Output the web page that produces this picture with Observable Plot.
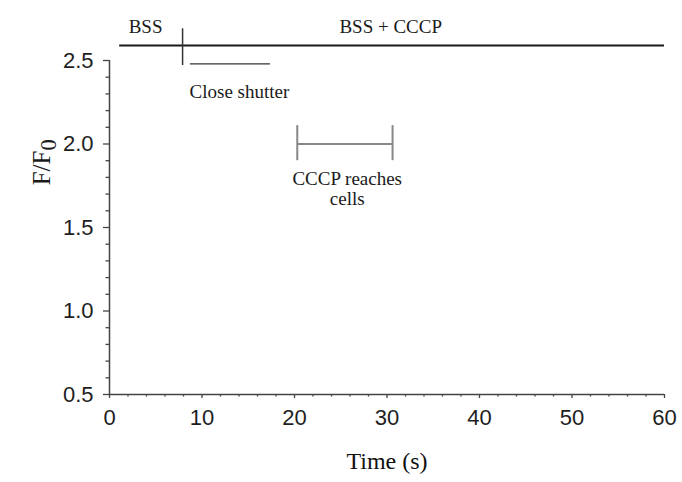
<!DOCTYPE html>
<html><head><meta charset="utf-8">
<script src="https://cdn.jsdelivr.net/npm/d3@7"></script>
<script src="https://cdn.jsdelivr.net/npm/@observablehq/plot@0.6"></script>
<style>body{margin:0;background:#fff}</style>
</head><body><div id="chart"></div>
<script>
// Axis ticks
const xTicks = [0, 10, 20, 30, 40, 50, 60];
const xMinor = [2,4,6,8,12,14,16,18,22,24,26,28,32,34,36,38,42,44,46,48,52,54,56,58];
const yTicks = [0.5, 1.0, 1.5, 2.0, 2.5];
const yMinor = [0.6,0.7,0.8,0.9,1.1,1.2,1.3,1.4,1.6,1.7,1.8,1.9,2.1,2.2,2.3,2.4];

// Annotation geometry (data units: time s, F/F0)
const treatmentLine = [{x1: 1.1, x2: 60, y: 2.59}];
const switchMark = [{x: 7.9, y1: 2.47, y2: 2.69}];
const shutterLine = [{x1: 8.75, x2: 17.4, y: 2.48}];
const reachBar = [{x1: 20.3, x2: 30.6, y: 2.0}];
const reachEnds = [{x: 20.3, y1: 1.9, y2: 2.11}, {x: 30.6, y1: 1.9, y2: 2.11}];
const labels = [
  {x: 3.9, y: 2.70, text: "BSS"},
  {x: 30.4, y: 2.70, text: "BSS + CCCP"},
  {x: 14.05, y: 2.31, text: "Close shutter"},
  {x: 25.7, y: 1.79, text: "CCCP reaches"},
  {x: 25.7, y: 1.67, text: "cells"}
];
const yLabel = [{x: -7.3, y: 1.89, text: "F/F0"}];
const xLabel = ["Time (s)"];

const serif = "'Liberation Serif', 'Times New Roman', serif";
const sans = "'Liberation Sans', Arial, sans-serif";
const axisColor = "#444";

const chart = Plot.plot({
  width: 682,
  height: 482,
  marginLeft: 109,
  marginRight: 18,
  marginTop: 60,
  marginBottom: 88,
  x: {domain: [0, 60]},
  y: {domain: [0.5, 2.5]},
  style: {fontFamily: sans, color: "#222", background: "#fff", overflow: "visible"},
  marks: [
    Plot.axisX({ticks: xTicks, tickSize: 4, tickPadding: 11, label: null, stroke: axisColor, fill: "#1e1e1e", strokeWidth: 1.3, fontSize: 22, fontFamily: sans}),
    Plot.axisX({ticks: xMinor, tickSize: 2.5, tickFormat: () => "", label: null, stroke: axisColor, strokeWidth: 1.3}),
    Plot.axisY({ticks: yTicks, tickSize: 6, tickPadding: 10, tickFormat: d3.format(".1f"), label: null, stroke: axisColor, fill: "#1e1e1e", strokeWidth: 1.3, fontSize: 22, fontFamily: sans}),
    Plot.axisY({ticks: yMinor, tickSize: 3.5, tickFormat: () => "", label: null, stroke: axisColor, strokeWidth: 1.3}),
    Plot.ruleX([0], {y1: 0.5, y2: 2.5, stroke: axisColor, strokeWidth: 1.5}),
    Plot.ruleY([0.5], {x1: 0, x2: 60, stroke: axisColor, strokeWidth: 1.5}),
    Plot.ruleY(treatmentLine, {x1: "x1", x2: "x2", y: "y", stroke: "#1a1a1a", strokeWidth: 2, clip: false}),
    Plot.ruleX(switchMark, {x: "x", y1: "y1", y2: "y2", stroke: "#333", strokeWidth: 1.5, clip: false}),
    Plot.ruleY(shutterLine, {x1: "x1", x2: "x2", y: "y", stroke: "#333", strokeWidth: 1.3}),
    Plot.ruleY(reachBar, {x1: "x1", x2: "x2", y: "y", stroke: "#888", strokeWidth: 2}),
    Plot.ruleX(reachEnds, {x: "x", y1: "y1", y2: "y2", stroke: "#888", strokeWidth: 2}),
    Plot.text(labels, {x: "x", y: "y", text: "text", fontFamily: serif, fontSize: 19, fill: "#1a1a1a", textAnchor: "middle", clip: false}),
    Plot.text(yLabel, {x: "x", y: "y", text: "text", rotate: -90, fontFamily: serif, fontSize: 25, fill: "#1a1a1a", className: "ylab"}),
    Plot.text(xLabel, {frameAnchor: "bottom", dy: 74, text: d => d, fontFamily: serif, fontSize: 24, fill: "#111"})
  ]
});

document.getElementById("chart").appendChild(chart);

// Render subscript in y label
d3.select(chart).selectAll("g.ylab text").each(function() {
  const t = d3.select(this);
  t.text("F/F");
  t.append("tspan").attr("dy", "0.25em").attr("font-size", "0.9em").text("0");
});
</script>
</body></html>
